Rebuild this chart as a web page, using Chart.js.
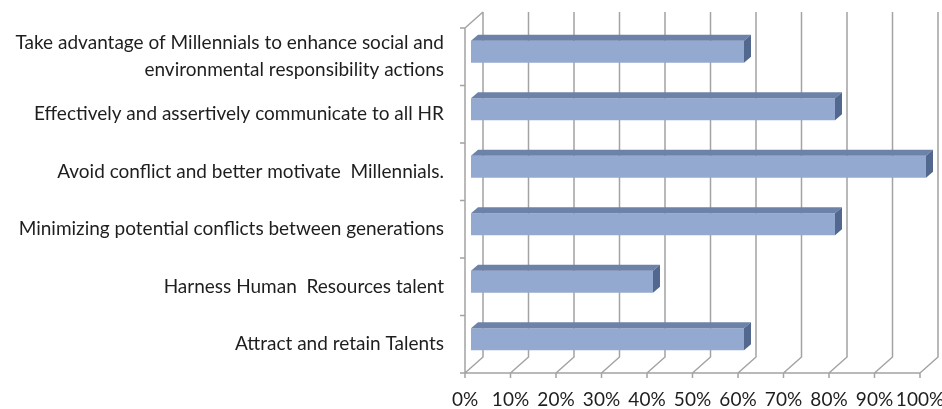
<!DOCTYPE html>
<html>
<head>
<meta charset="utf-8">
<script src="https://cdn.jsdelivr.net/npm/chart.js@4.4.1/dist/chart.umd.min.js"></script>
<style>
  html, body { margin: 0; padding: 0; background: #fff; }
  #wrap { width: 942px; height: 409px; }
</style>
</head>
<body>
<div id="wrap"><canvas id="c" width="942" height="409"></canvas></div>
<script>
// survey answers, top to bottom
const categories = [
  ['Take advantage of Millennials to enhance social and', 'environmental responsibility actions'],
  'Effectively and assertively communicate to all HR',
  'Avoid conflict and better motivate  Millennials.',
  'Minimizing potential conflicts between generations',
  'Harness Human  Resources talent',
  'Attract and retain Talents'
];
const shares = [60, 80, 100, 80, 40, 60];
const pctLabels = ['0%', '10%', '20%', '30%', '40%', '50%', '60%', '70%', '80%', '90%', '100%'];

// fake 3D: walls sit DEPTH behind the front plane, bars float a bit inside
const DEPTH = { dx: 18, dy: -16 };
const BAR_OFF = { dx: 6, dy: -5 };
const BAR_EXT = { dx: 7, dy: -6 };
const LINE = '#a3a3a3';
const INK = '#1e1e1e';
const FONT = { family: 'Lato, "Open Sans", sans-serif', size: 19 };

const box3d = {
  id: 'box3d',
  beforeDatasetsDraw(chart) {
    const { ctx, chartArea: a, scales: { x } } = chart;
    const n = chart.data.labels.length;
    ctx.save();
    ctx.strokeStyle = LINE;
    ctx.lineWidth = 1.5;
    ctx.beginPath();
    x.ticks.forEach(t => {
      const px = x.getPixelForValue(t.value);
      ctx.moveTo(px + DEPTH.dx, a.top + DEPTH.dy);
      ctx.lineTo(px + DEPTH.dx, a.bottom + DEPTH.dy);
      ctx.lineTo(px, a.bottom);
      ctx.lineTo(px, a.bottom + 5);
    });
    ctx.moveTo(a.left, a.bottom);
    ctx.lineTo(a.right, a.bottom);
    ctx.moveTo(a.left, a.bottom);
    ctx.lineTo(a.left, a.top);
    ctx.lineTo(a.left + DEPTH.dx, a.top + DEPTH.dy);
    for (let i = 0; i <= n; i++) {
      const py = a.top + i * a.height / n;
      ctx.moveTo(a.left - 5, py);
      ctx.lineTo(a.left, py);
    }
    ctx.stroke();
    ctx.restore();
    // bars are drawn shifted into the box
    ctx.save();
    ctx.translate(BAR_OFF.dx, BAR_OFF.dy);
  },
  afterDatasetsDraw(chart) {
    const { ctx } = chart;
    chart.getDatasetMeta(0).data.forEach(bar => {
      const { x, y, base, height } = bar.getProps(['x', 'y', 'base', 'height'], true);
      const top = y - height / 2, bot = y + height / 2;
      ctx.fillStyle = '#6d82a8';
      ctx.beginPath();
      ctx.moveTo(base, top);
      ctx.lineTo(x, top);
      ctx.lineTo(x + BAR_EXT.dx, top + BAR_EXT.dy);
      ctx.lineTo(base + BAR_EXT.dx, top + BAR_EXT.dy);
      ctx.closePath();
      ctx.fill();
      ctx.fillStyle = '#52688f';
      ctx.beginPath();
      ctx.moveTo(x, top);
      ctx.lineTo(x + BAR_EXT.dx, top + BAR_EXT.dy);
      ctx.lineTo(x + BAR_EXT.dx, bot + BAR_EXT.dy);
      ctx.lineTo(x, bot);
      ctx.closePath();
      ctx.fill();
    });
    ctx.restore();
  }
};

// keep the plot box fixed: no extra room for overhanging labels
function fixBox(s, w, h) {
  if (w) s.width = w;
  if (h) s.height = h;
  s.paddingLeft = s.paddingRight = s.paddingTop = s.paddingBottom = 0;
}

new Chart(document.getElementById('c'), {
  type: 'bar',
  data: {
    labels: categories,
    datasets: [{
      data: shares,
      backgroundColor: '#94a9cf',
      borderWidth: 0,
      barPercentage: 22 / 57.5,
      categoryPercentage: 1,
      clip: false
    }]
  },
  options: {
    indexAxis: 'y',
    responsive: false,
    animation: false,
    layout: { padding: { top: 28, right: 22, left: 0, bottom: 0 } },
    plugins: { legend: { display: false }, tooltip: { enabled: false } },
    scales: {
      x: {
        min: 0, max: 100,
        grid: { display: false, drawTicks: false },
        border: { display: false },
        ticks: {
          stepSize: 10, autoSkip: false, maxRotation: 0, padding: 15,
          color: INK, font: FONT,
          callback: (v, i) => pctLabels[i]
        },
        afterFit(s) { fixBox(s, 0, 36); }
      },
      y: {
        grid: { display: false, drawTicks: false },
        border: { display: false },
        ticks: { padding: 21, color: INK, font: { ...FONT, lineHeight: 1.42 } },
        afterFit(s) { fixBox(s, 465, 0); }
      }
    }
  },
  plugins: [box3d]
});
</script>
</body>
</html>
